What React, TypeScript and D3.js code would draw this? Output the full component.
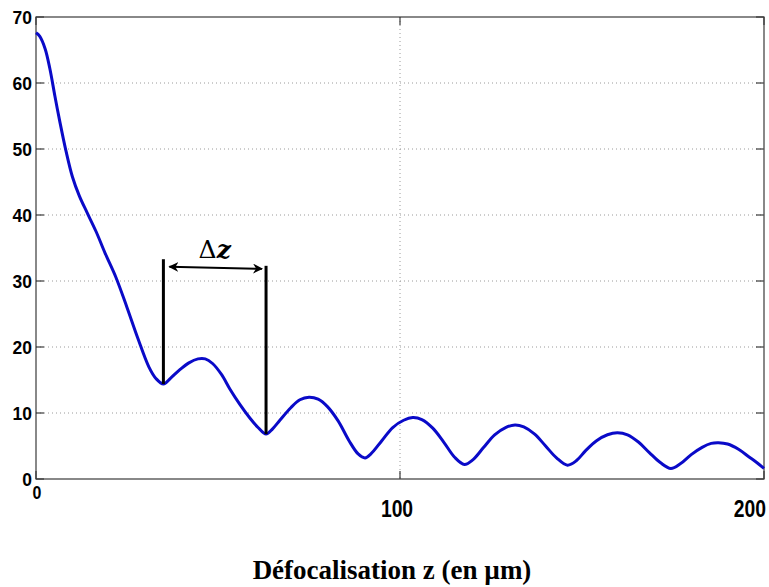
import React, { useEffect, useRef } from 'react';
import * as d3 from 'd3';

// defocus z (µm) and the curve value
const zValues = [
  0, 1, 2.5, 3.8, 5.2, 6.6, 8.2, 10, 11.9, 14, 16.5, 19, 22, 25, 28, 31, 33, 35,
  37, 39.6, 42, 44.5, 46.5, 48.5, 51, 53.3, 56, 58.8, 61, 63.2, 65, 67, 70, 72.5, 75,
  77.5, 80, 83, 86, 88.5, 90.4, 92, 95, 98, 101, 103.5, 106, 109, 112, 115, 117.7,
  120, 123, 126, 129, 131.6, 134, 137, 140, 143, 146, 148.5, 151, 154, 157, 159.7,
  162.5, 165.5, 168.5, 171.5, 174.4, 177, 180, 183, 185.5, 187.5, 190, 193, 196, 198, 200
];
const curveValues = [
  67.6, 67.1, 65.2, 62.2, 58, 54, 49.8, 45.8, 42.9, 40.4, 37.5, 34.2, 30.5, 26, 21.3, 17, 15.2, 14.4,
  15.3, 16.6, 17.6, 18.2, 18.2, 17.5, 15.8, 13.6, 11.3, 9.2, 7.8, 6.8, 7.6, 8.9, 10.8, 12, 12.4,
  12.1, 11, 8.8, 5.8, 3.8, 3.2, 3.8, 5.8, 7.8, 8.9, 9.3, 9.0, 7.7, 5.6, 3.3, 2.2,
  2.9, 4.8, 6.7, 7.8, 8.2, 7.9, 6.8, 5.0, 3.2, 2.1, 2.8, 4.3, 5.8, 6.7, 7.0,
  6.7, 5.6, 4.0, 2.5, 1.6, 2.3, 3.7, 4.8, 5.4, 5.5, 5.3, 4.5, 3.3, 2.5, 1.6
];

const xTicks = [0, 100, 200];
const yTicks = [0, 10, 20, 30, 40, 50, 60, 70];

// the two minima marked by the Δz annotation
const markers = [
  { z: 35, top: 33.3, bottom: 14.4 },
  { z: 63.2, top: 32.3, bottom: 6.8 }
];
const arrowLevel = 32;
const xLabel = 'Défocalisation z (en µm)';

const App = () => {
  const chartRef = useRef<SVGSVGElement>(null);

  useEffect(() => {
    const svg = d3.select(chartRef.current);
    svg.selectAll('*').remove();

    const left = 36, right = 764, top = 17, bottom = 479;

    const x = d3.scaleLinear().domain([0, 200]).range([left, right]);
    const y = d3.scaleLinear().domain([0, 70]).range([bottom, top]);

    const defs = svg.append('defs');
    defs.append('marker')
      .attr('id', 'arrowhead')
      .attr('viewBox', '0 0 10 10')
      .attr('refX', 9)
      .attr('refY', 5)
      .attr('markerWidth', 5)
      .attr('markerHeight', 5)
      .attr('orient', 'auto-start-reverse')
      .append('path')
      .attr('d', 'M0,0 L10,5 L0,10 L3,5 Z')
      .attr('fill', '#000');

    // dotted grid
    const grid = svg.append('g')
      .attr('stroke', '#9a9a9a')
      .attr('stroke-width', 1)
      .attr('stroke-dasharray', '1,3');
    grid.selectAll('.gy')
      .data(yTicks.filter(d => d > 0 && d < 70))
      .enter()
      .append('line')
      .attr('x1', left)
      .attr('x2', right)
      .attr('y1', d => y(d))
      .attr('y2', d => y(d));
    grid.selectAll('.gx')
      .data(xTicks.filter(d => d > 0 && d < 200))
      .enter()
      .append('line')
      .attr('x1', d => x(d))
      .attr('x2', d => x(d))
      .attr('y1', top)
      .attr('y2', bottom);

    // box and inward ticks
    const axisColor = '#3a3a3a';
    svg.append('rect')
      .attr('x', left)
      .attr('y', top)
      .attr('width', right - left)
      .attr('height', bottom - top)
      .attr('fill', 'none')
      .attr('stroke', axisColor)
      .attr('stroke-width', 1.2);

    const ticks = svg.append('g').attr('stroke', axisColor).attr('stroke-width', 1.2);
    yTicks.forEach(t => {
      ticks.append('line').attr('x1', left).attr('x2', left + 8).attr('y1', y(t)).attr('y2', y(t));
      ticks.append('line').attr('x1', right).attr('x2', right - 8).attr('y1', y(t)).attr('y2', y(t));
    });
    xTicks.forEach(t => {
      ticks.append('line').attr('x1', x(t)).attr('x2', x(t)).attr('y1', bottom).attr('y2', bottom - 8);
      ticks.append('line').attr('x1', x(t)).attr('x2', x(t)).attr('y1', top).attr('y2', top + 8);
    });

    // tick labels
    svg.selectAll('.ylab')
      .data(yTicks)
      .enter()
      .append('text')
      .attr('transform', d => `translate(32,${y(d)}) scale(0.92,1)`)
      .attr('dy', '0.36em')
      .attr('text-anchor', 'end')
      .style('font-family', 'Arial, "Liberation Sans", sans-serif')
      .style('font-weight', 'bold')
      .style('font-size', '19px')
      .text(d => d);

    svg.selectAll('.xlab')
      .data(xTicks)
      .enter()
      .append('text')
      .attr('transform', d => {
        const px = d === 200 ? x(d) + 2 : d === 0 ? x(d) + 1 : x(d) - 3;
        const py = d === 0 ? 499 : 517;
        return `translate(${px},${py}) scale(0.84,1)`;
      })
      .attr('text-anchor', d => (d === 200 ? 'end' : 'middle'))
      .style('font-family', 'Arial, "Liberation Sans", sans-serif')
      .style('font-weight', 'bold')
      .style('font-size', d => (d === 0 ? '19px' : '23px'))
      .text(d => d);

    // curve
    const pts = zValues.map((z, i) => [z, curveValues[i]] as [number, number]);
    const line = d3.line<[number, number]>()
      .x(d => x(d[0]))
      .y(d => y(d[1]))
      .curve(d3.curveCatmullRom.alpha(0.5));
    svg.append('path')
      .datum(pts)
      .attr('d', line)
      .attr('fill', 'none')
      .attr('stroke', '#0a0ac8')
      .attr('stroke-width', 3)
      .attr('stroke-linejoin', 'round');

    // Δz annotation
    svg.selectAll('.marker')
      .data(markers)
      .enter()
      .append('line')
      .attr('x1', d => x(d.z))
      .attr('x2', d => x(d.z))
      .attr('y1', d => y(d.top))
      .attr('y2', d => y(d.bottom))
      .attr('stroke', '#000')
      .attr('stroke-width', 3);

    svg.append('line')
      .attr('x1', x(markers[0].z) + 6)
      .attr('x2', x(markers[1].z) - 4)
      .attr('y1', y(arrowLevel) - 1)
      .attr('y2', y(arrowLevel) + 1)
      .attr('stroke', '#000')
      .attr('stroke-width', 2)
      .attr('marker-start', 'url(#arrowhead)')
      .attr('marker-end', 'url(#arrowhead)');

    const dz = svg.append('text')
      .attr('x', (x(markers[0].z) + x(markers[1].z)) / 2)
      .attr('y', 258)
      .attr('text-anchor', 'middle')
      .style('font-family', '"DejaVu Serif", serif')
      .style('font-size', '25px');
    dz.append('tspan').text('Δ');
    dz.append('tspan')
      .style('font-weight', 'bold')
      .style('font-style', 'italic')
      .text('z');

    // x axis title
    svg.append('text')
      .attr('x', 392)
      .attr('y', 579)
      .attr('text-anchor', 'middle')
      .style('font-family', '"Liberation Serif", "Times New Roman", serif')
      .style('font-weight', 'bold')
      .style('font-size', '27px')
      .text(xLabel);
  }, []);

  return (
    <svg
      ref={chartRef}
      width={769}
      height={587}
      style={{ position: 'absolute', left: 0, top: 0, background: '#fff' }}
    />
  );
};

export default App;
